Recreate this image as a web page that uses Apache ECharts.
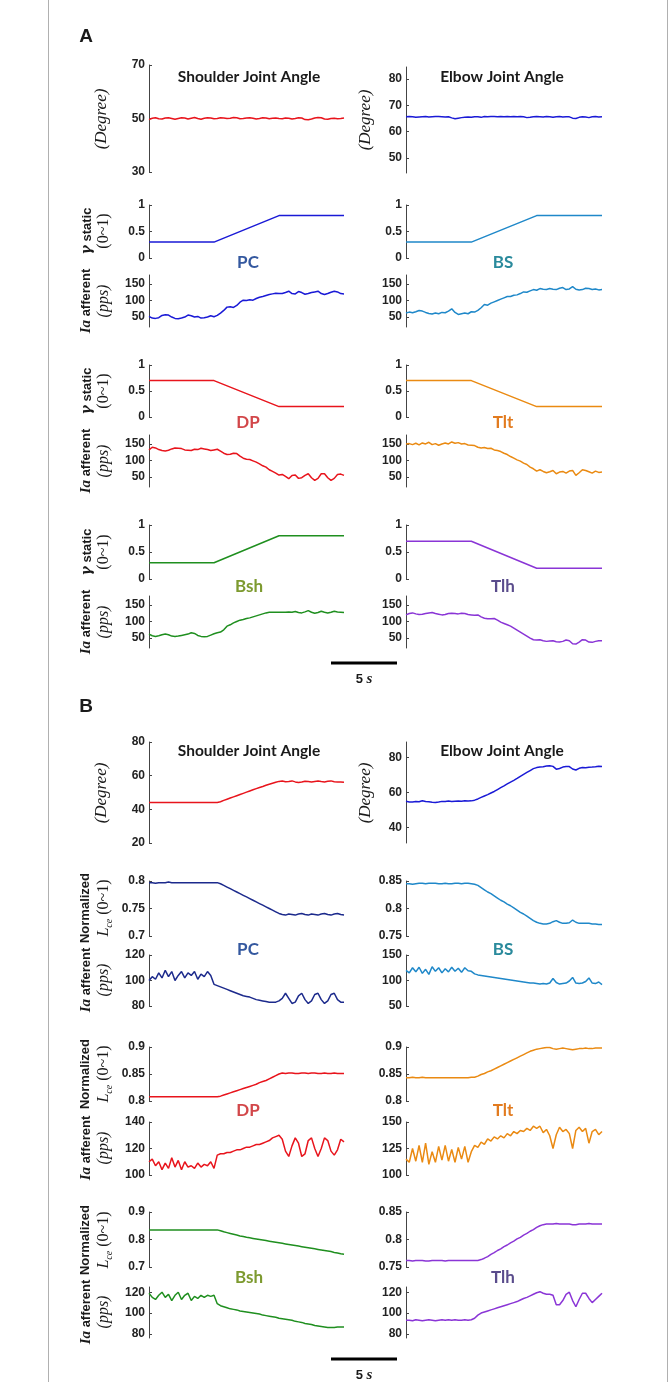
<!DOCTYPE html>
<html>
<head>
<meta charset="utf-8">
<title>Joint angle, gamma static and Ia afferent</title>
<script src="https://cdn.jsdelivr.net/npm/echarts@6/dist/echarts.min.js"></script>
<style>
  html, body { margin: 0; padding: 0; background: #fff; }
  #chart { width: 672px; height: 1382px; }
</style>
</head>
<body>
<div id="chart"></div>
<script>
// time base in seconds
const t = [0, 0.25, 0.5, 0.75, 1, 1.25, 1.5, 1.75, 2, 2.25,
  2.5, 2.75, 3, 3.25, 3.5, 3.75, 4, 4.25, 4.5, 4.75,
  5, 5.25, 5.5, 5.75, 6, 6.25, 6.5, 6.75, 7, 7.25,
  7.5, 7.75, 8, 8.25, 8.5, 8.75, 9, 9.25, 9.5, 9.75,
  10, 10.25, 10.5, 10.75, 11, 11.25, 11.5, 11.75, 12, 12.25,
  12.5, 12.75, 13, 13.25, 13.5, 13.75, 14, 14.25, 14.5, 14.75, 15];
const tRamp = [0, 5, 10, 15];
const scaleBarSec = [0, 5];

// ---- panel A ----
const shoulderA = [49.6, 50.1, 50.3, 49.9, 49.8, 50.2, 50.3, 50.0, 49.7, 50.0,
  50.3, 50.2, 49.8, 50.1, 50.4, 50.0, 49.7, 50.1, 50.3, 50.2,
  49.9, 50.0, 50.3, 50.2, 50.0, 50.1, 50.4, 50.3, 49.9, 50.0,
  50.2, 50.3, 50.1, 49.8, 50.0, 50.3, 50.2, 49.9, 50.1, 50.2,
  50.0, 49.9, 50.2, 50.1, 49.8, 50.0, 50.3, 50.2, 49.6, 49.5,
  49.8, 50.2, 50.4, 50.3, 49.8, 49.7, 50.0, 50.1, 49.9, 50.0, 50.2];
const elbowA = [65.6, 65.7, 65.6, 65.4, 65.5, 65.6, 65.7, 65.5, 65.6, 65.7,
  65.7, 65.6, 65.5, 65.6, 65.2, 64.9, 65.1, 65.3, 65.4, 65.5,
  65.4, 65.6, 65.6, 65.4, 65.7, 65.6, 65.7, 65.7, 65.6, 65.7,
  65.6, 65.7, 65.6, 65.7, 65.6, 65.7, 65.6, 65.3, 65.4, 65.6,
  65.7, 65.6, 65.5, 65.7, 65.6, 65.4, 65.6, 65.7, 65.5, 65.6,
  65.6, 65.1, 65.0, 65.4, 65.6, 65.5, 65.3, 65.6, 65.7, 65.5, 65.6];

const gammaPC = [0.3, 0.3, 0.8, 0.8];
const gammaBS = [0.3, 0.3, 0.8, 0.8];
const gammaDP = [0.7, 0.7, 0.2, 0.2];
const gammaTlt = [0.7, 0.7, 0.2, 0.2];
const gammaBsh = [0.3, 0.3, 0.8, 0.8];
const gammaTlh = [0.7, 0.7, 0.2, 0.2];

const iaPC_A = [52, 47, 46, 48, 55, 57, 56, 50, 46, 45,
  47, 50, 56, 54, 50, 52, 47, 48, 50, 54,
  51, 55, 62, 70, 80, 81, 79, 85, 95, 101,
  100, 102, 101, 106, 110, 112, 115, 118, 120, 122,
  121, 121, 124, 128, 121, 120, 127, 124, 119, 121,
  124, 126, 128, 121, 118, 121, 125, 128, 126, 121, 120];
const iaBS_A = [62, 65, 63, 66, 70, 68, 64, 61, 59, 62,
  60, 64, 63, 68, 75, 64, 58, 60, 62, 60,
  66, 65, 70, 78, 88, 86, 92, 96, 100, 104,
  108, 112, 112, 116, 117, 121, 126, 125, 129, 133,
  131, 136, 134, 133, 136, 134, 133, 137, 139, 133,
  135, 142, 134, 132, 133, 137, 136, 133, 135, 132, 133];
const iaDP_A = [132, 140, 138, 133, 130, 129, 131, 135, 138, 137,
  136, 132, 131, 130, 134, 133, 137, 135, 133, 130,
  132, 134, 128, 122, 118, 119, 122, 121, 113, 107,
  104, 103, 99, 95, 90, 84, 80, 72, 67, 62,
  56, 58, 52, 45, 55, 56, 46, 48, 55, 60,
  48, 40, 46, 60, 60, 48, 40, 46, 58, 59, 55];
const iaTlt_A = [150, 151, 148, 152, 147, 153, 150, 155, 148, 151,
  146, 150, 153, 150, 156, 152, 154, 150, 151, 147,
  146, 145, 140, 138, 139, 136, 137, 132, 130, 127,
  122, 118, 112, 107, 102, 98, 92, 88, 80, 75,
  68, 72, 67, 63, 66, 70, 60, 65, 67, 62,
  68, 70, 55, 63, 72, 70, 66, 62, 68, 64, 65];
const iaBsh_A = [62, 57, 55, 57, 60, 62, 60, 56, 55, 56,
  58, 60, 62, 66, 64, 58, 55, 54, 55, 59,
  63, 66, 68, 75, 86, 90, 96, 100, 104, 106,
  109, 111, 114, 117, 120, 123, 126, 128, 128, 128,
  128, 128, 128, 129, 128, 130, 127, 126, 129, 133,
  128, 125, 127, 131, 128, 126, 128, 131, 129, 128, 127];
const iaTlh_A = [120, 124, 126, 123, 121, 122, 124, 126, 127, 124,
  122, 120, 121, 124, 125, 124, 123, 125, 124, 121,
  120, 119, 120, 114, 110, 108, 108, 109, 104, 98,
  94, 90, 86, 80, 74, 68, 62, 56, 50, 45,
  44, 45, 42, 40, 41, 42, 39, 38, 40, 44,
  42, 33, 32, 38, 45, 44, 38, 37, 40, 42, 42];

// ---- panel B ----
const shoulderB = [44, 44, 44, 44.1, 44, 44, 44.1, 44, 44, 44,
  44, 44.1, 44, 44, 44, 44, 44.1, 44, 44, 44,
  44, 44.1, 44.5, 45.3, 46, 46.7, 47.4, 48.1, 48.8, 49.5,
  50.2, 50.9, 51.6, 52.3, 53, 53.6, 54.3, 54.9, 55.5, 56.1,
  56.6, 56.8, 56.4, 56.6, 56.9, 56.3, 55.9, 56.2, 56.7, 56.5,
  56.3, 56.6, 56.8, 56.5, 56.3, 56.7, 56.9, 56.4, 56.2, 56.3, 56.1];
const elbowB = [55, 54.6, 54.5, 54.8, 54.7, 55.3, 54.8, 54.7, 54.4, 54.2,
  54.5, 54.9, 54.8, 55.1, 54.9, 55, 55.1, 55, 55.2, 55.1,
  55.2, 55.6, 56.3, 57.2, 58, 58.8, 59.7, 60.6, 61.7, 62.8,
  63.8, 64.9, 66, 67, 68.1, 69.3, 70.4, 71.5, 72.6, 73.7,
  74.3, 74.6, 74.8, 75.2, 75.4, 75, 73.4, 73.8, 74.6, 74.9,
  74.9, 73.5, 72.9, 73.9, 74.3, 74.2, 74.5, 74.6, 74.8, 75.1, 75];

const lcePC = [0.797, 0.797, 0.796, 0.797, 0.797, 0.797, 0.798, 0.797, 0.797, 0.797,
  0.797, 0.797, 0.797, 0.797, 0.797, 0.797, 0.797, 0.797, 0.797, 0.797,
  0.797, 0.797, 0.795, 0.792, 0.789, 0.786, 0.783, 0.780, 0.777, 0.774,
  0.771, 0.768, 0.765, 0.762, 0.759, 0.756, 0.753, 0.750, 0.747, 0.744,
  0.741, 0.739, 0.738, 0.740, 0.739, 0.738, 0.740, 0.741, 0.739, 0.738,
  0.740, 0.739, 0.738, 0.740, 0.741, 0.739, 0.738, 0.740, 0.741, 0.739, 0.738];
const lceBS = [0.845, 0.845, 0.844, 0.845, 0.846, 0.846, 0.845, 0.846, 0.846, 0.846,
  0.845, 0.845, 0.846, 0.845, 0.845, 0.846, 0.846, 0.845, 0.846, 0.846,
  0.845, 0.844, 0.842, 0.838, 0.834, 0.830, 0.827, 0.823, 0.819, 0.815,
  0.812, 0.808, 0.805, 0.801, 0.797, 0.793, 0.790, 0.786, 0.782, 0.778,
  0.775, 0.773, 0.772, 0.772, 0.773, 0.776, 0.778, 0.775, 0.773, 0.773,
  0.774, 0.779, 0.775, 0.773, 0.773, 0.773, 0.773, 0.772, 0.772, 0.771, 0.771];
const iaPC_B = [100, 103, 101, 106, 102, 108, 103, 107, 100, 104,
  107, 102, 106, 104, 107, 101, 105, 103, 107, 104,
  97, 96, 95, 94, 93, 92, 91, 90, 89, 88,
  87.5, 87, 86, 85, 84.5, 84, 83.5, 83, 83, 83,
  84, 86, 90, 86, 82, 83, 88, 90, 85, 82,
  84, 89, 90, 85, 82, 84, 89, 90, 85, 83, 83];
const iaBS_B = [120, 115, 125, 117, 126, 114, 122, 112, 127, 118,
  125, 115, 123, 117, 126, 118, 124, 116, 125, 119,
  118, 113, 111, 110, 109, 108, 107, 106, 105, 104,
  103, 102, 101, 100, 99, 98, 97, 96, 95, 95,
  94, 93, 94, 93, 95, 104, 96, 93, 94, 95,
  99, 106, 95, 94, 95, 98, 105, 95, 94, 97, 92];

const lceDP = [0.808, 0.808, 0.808, 0.808, 0.808, 0.808, 0.808, 0.808, 0.808, 0.808,
  0.808, 0.808, 0.808, 0.808, 0.808, 0.808, 0.808, 0.808, 0.808, 0.808,
  0.808, 0.808, 0.809, 0.811, 0.813, 0.815, 0.817, 0.819, 0.821, 0.823,
  0.825, 0.827, 0.829, 0.831, 0.834, 0.836, 0.838, 0.841, 0.844, 0.847,
  0.850, 0.852, 0.851, 0.852, 0.852, 0.851, 0.851, 0.852, 0.852, 0.851,
  0.852, 0.852, 0.851, 0.851, 0.852, 0.851, 0.851, 0.852, 0.851, 0.851, 0.851];
const lceTlt = [0.843, 0.843, 0.844, 0.843, 0.843, 0.844, 0.843, 0.843, 0.843, 0.843,
  0.843, 0.843, 0.843, 0.843, 0.843, 0.843, 0.843, 0.843, 0.843, 0.843,
  0.844, 0.844, 0.846, 0.849, 0.851, 0.854, 0.856, 0.859, 0.862, 0.865,
  0.868, 0.871, 0.874, 0.877, 0.880, 0.883, 0.886, 0.889, 0.892, 0.894,
  0.896, 0.897, 0.898, 0.899, 0.899, 0.897, 0.896, 0.897, 0.898, 0.897,
  0.896, 0.895, 0.896, 0.897, 0.897, 0.898, 0.897, 0.897, 0.898, 0.898, 0.898];
const iaDP_B = [110, 112, 107, 110, 104, 109, 105, 113, 106, 111,
  104, 110, 106, 107, 105, 109, 106, 108, 107, 110,
  105, 115, 116, 116, 117, 117, 118, 119, 119, 120,
  121, 121, 122, 123, 123, 124, 125, 126, 128, 129,
  130, 127, 118, 114, 122, 128, 124, 114, 116, 126,
  128, 120, 114, 120, 128, 126, 118, 115, 119, 127, 125];
const iaTlt_B = [115, 112, 125, 113, 128, 112, 130, 110, 122, 112,
  127, 114, 128, 113, 124, 112, 126, 115, 127, 112,
  122, 128, 126, 131, 129, 134, 132, 136, 134, 137,
  135, 139, 137, 141, 139, 142, 141, 144, 142, 146,
  144, 146, 140, 143, 137, 125, 138, 145, 141, 143,
  139, 125, 142, 145, 141, 144, 130, 141, 143, 138, 141];

const lceBsh = [0.835, 0.835, 0.835, 0.835, 0.835, 0.835, 0.835, 0.835, 0.835, 0.835,
  0.835, 0.835, 0.835, 0.835, 0.835, 0.835, 0.835, 0.835, 0.835, 0.835,
  0.835, 0.835, 0.832, 0.828, 0.825, 0.822, 0.819, 0.816, 0.813, 0.811,
  0.808, 0.806, 0.804, 0.802, 0.800, 0.798, 0.796, 0.794, 0.792, 0.790,
  0.788, 0.786, 0.784, 0.782, 0.780, 0.778, 0.776, 0.774, 0.772, 0.770,
  0.768, 0.766, 0.764, 0.762, 0.760, 0.758, 0.756, 0.753, 0.751, 0.748, 0.746];
const lceTlh = [0.762, 0.762, 0.761, 0.762, 0.762, 0.762, 0.761, 0.761, 0.762, 0.762,
  0.762, 0.762, 0.761, 0.762, 0.762, 0.762, 0.762, 0.762, 0.762, 0.762,
  0.762, 0.762, 0.762, 0.7635, 0.766, 0.769, 0.773, 0.776, 0.780, 0.783,
  0.787, 0.790, 0.794, 0.797, 0.801, 0.804, 0.808, 0.811, 0.815, 0.818,
  0.822, 0.825, 0.827, 0.828, 0.828, 0.828, 0.829, 0.828, 0.828, 0.828,
  0.828, 0.827, 0.827, 0.828, 0.828, 0.828, 0.829, 0.828, 0.828, 0.828, 0.828];
const iaBsh_B = [119, 115, 113, 117, 120, 115, 118, 112, 117, 120,
  113, 117, 119, 112, 116, 114, 117, 115, 117, 116,
  117, 109, 107, 106, 105, 104, 103.5, 103, 102, 101.5,
  101, 100.5, 100, 99.5, 99, 98, 97.5, 97, 96.5, 96,
  95, 94.5, 94, 93.5, 93, 92, 91.5, 91, 90, 89.5,
  89, 88, 87.5, 87, 86.5, 86, 86, 86, 86.5, 86.5, 86.5];
const iaTlh_B = [93, 93, 92.5, 93.5, 93, 92.5, 93, 93.5, 93, 92.5,
  93, 93.5, 93, 93.5, 93, 93.5, 93, 93, 93.5, 93,
  93.5, 95, 98, 100, 101, 102, 103, 104, 105, 106,
  107, 108, 109, 110, 111, 112.5, 114, 115, 116.5, 118,
  119.5, 120.5, 119, 118, 118, 117, 108, 108, 112, 118,
  120, 112, 106, 113, 119, 119, 114, 110, 113, 116, 119];

// colours
const RED = "#e8141c";
const BLUE = "#1a1ad6";
const NAVY = "#1c2a8c";
const SKY = "#1f88c9";
const ORANGE = "#ea8a12";
const GREEN = "#1f8f1f";
const PURPLE = "#8a35d6";

const L = { left: 149, width: 195 };
const R = { left: 406, width: 196 };

const option = {
  animation: false,
  backgroundColor: "#fff",
  grid: [],
  xAxis: [],
  yAxis: [],
  series: [],
  graphic: []
};

function addPanel(col, top, bottom, min, max, ticks, xs, ys, color) {
  const idx = option.grid.length;
  option.grid.push({ left: col.left, width: col.width, top: top, height: bottom - top });
  option.xAxis.push({ type: "value", gridIndex: idx, min: 0, max: 15, show: false });
  option.yAxis.push({
    type: "value",
    gridIndex: idx,
    min: min,
    max: max,
    splitLine: { show: false },
    axisLine: { show: true, lineStyle: { color: "#444", width: 1 } },
    axisTick: { show: true, inside: true, length: 3, customValues: ticks, lineStyle: { color: "#444" } },
    axisLabel: {
      customValues: ticks,
      margin: 4,
      color: "#222",
      fontSize: 12,
      fontWeight: "bold",
      fontFamily: "Liberation Sans"
    }
  });
  option.series.push({
    type: "line",
    xAxisIndex: idx,
    yAxisIndex: idx,
    data: xs.map((x, i) => [x, ys[i]]),
    symbol: "none",
    silent: true,
    lineStyle: { color: color, width: 1.5 }
  });
}

// panel A
addPanel(L, 65, 172, 30, 70, [30, 50, 70], t, shoulderA, RED);
addPanel(R, 67, 173, 44.3, 84.5, [50, 60, 70, 80], t, elbowA, BLUE);
addPanel(L, 205, 258, 0, 1, [0, 0.5, 1], tRamp, gammaPC, BLUE);
addPanel(R, 205, 258, 0, 1, [0, 0.5, 1], tRamp, gammaBS, SKY);
addPanel(L, 275, 327, 20, 177, [50, 100, 150], t, iaPC_A, BLUE);
addPanel(R, 275, 327, 20, 177, [50, 100, 150], t, iaBS_A, SKY);
addPanel(L, 365, 417, 0, 1, [0, 0.5, 1], tRamp, gammaDP, RED);
addPanel(R, 365, 417, 0, 1, [0, 0.5, 1], tRamp, gammaTlt, ORANGE);
addPanel(L, 435, 487, 20, 177, [50, 100, 150], t, iaDP_A, RED);
addPanel(R, 435, 487, 20, 177, [50, 100, 150], t, iaTlt_A, ORANGE);
addPanel(L, 525, 579, 0, 1, [0, 0.5, 1], tRamp, gammaBsh, GREEN);
addPanel(R, 525, 579, 0, 1, [0, 0.5, 1], tRamp, gammaTlh, PURPLE);
addPanel(L, 596, 648, 20, 177, [50, 100, 150], t, iaBsh_A, GREEN);
addPanel(R, 596, 648, 20, 177, [50, 100, 150], t, iaTlh_A, PURPLE);

// panel B
addPanel(L, 742, 843, 20, 80, [20, 40, 60, 80], t, shoulderB, RED);
addPanel(R, 742, 843, 31, 89, [40, 60, 80], t, elbowB, BLUE);
addPanel(L, 881, 936, 0.7, 0.8, [0.7, 0.75, 0.8], t, lcePC, NAVY);
addPanel(R, 881, 936, 0.75, 0.85, [0.75, 0.8, 0.85], t, lceBS, SKY);
addPanel(L, 955, 1006, 80, 120, [80, 100, 120], t, iaPC_B, NAVY);
addPanel(R, 955, 1006, 50, 150, [50, 100, 150], t, iaBS_B, SKY);
addPanel(L, 1047, 1101, 0.8, 0.9, [0.8, 0.85, 0.9], t, lceDP, RED);
addPanel(R, 1047, 1101, 0.8, 0.9, [0.8, 0.85, 0.9], t, lceTlt, ORANGE);
addPanel(L, 1122, 1175, 100, 140, [100, 120, 140], t, iaDP_B, RED);
addPanel(R, 1122, 1175, 100, 150, [100, 125, 150], t, iaTlt_B, ORANGE);
addPanel(L, 1212, 1267, 0.7, 0.9, [0.7, 0.8, 0.9], t, lceBsh, GREEN);
addPanel(R, 1212, 1267, 0.75, 0.85, [0.75, 0.8, 0.85], t, lceTlh, PURPLE);
addPanel(L, 1287, 1338, 76, 125, [80, 100, 120], t, iaBsh_B, GREEN);
addPanel(R, 1287, 1338, 76, 125, [80, 100, 120], t, iaTlh_B, PURPLE);

// 5 s scale bars, drawn on their own time axis
function addScaleBar(top) {
  const idx = option.grid.length;
  option.grid.push({ left: 331, width: 66, top: top - 1, height: 2 });
  option.xAxis.push({ type: "value", gridIndex: idx, min: 0, max: 5, show: false });
  option.yAxis.push({ type: "value", gridIndex: idx, min: 0, max: 1, show: false });
  option.series.push({
    type: "line",
    xAxisIndex: idx,
    yAxisIndex: idx,
    data: scaleBarSec.map(x => [x, 0.5]),
    symbol: "none",
    silent: true,
    lineStyle: { color: "#000", width: 3 }
  });
}
addScaleBar(663);
addScaleBar(1359);

// text
const INK = "#1a1a1a";
function txt(x, y, text, font, color, rot, rich) {
  option.graphic.push({
    type: "text",
    x: x,
    y: y,
    rotation: rot || 0,
    silent: true,
    style: {
      text: text,
      font: font,
      fill: color || INK,
      align: "center",
      verticalAlign: "middle",
      textAlign: "center",
      textVerticalAlign: "middle",
      rich: rich
    }
  });
}
const RICH = {
  b: { fontFamily: "Liberation Sans", fontWeight: "bold", fontSize: 13, fill: INK },
  g: { fontFamily: "DejaVu Serif", fontStyle: "italic", fontWeight: "bold", fontSize: 14, fill: INK },
  i: { fontFamily: "Liberation Serif", fontStyle: "italic", fontWeight: "bold", fontSize: 15, fill: INK },
  it: { fontFamily: "Liberation Serif", fontStyle: "italic", fontSize: 16, fill: INK, lineHeight: 20 },
  dg: { fontFamily: "Liberation Serif", fontStyle: "italic", fontSize: 17, fill: INK },
  s: { fontFamily: "Liberation Serif", fontSize: 16, fill: INK, lineHeight: 20 },
  sub: { fontFamily: "Liberation Serif", fontStyle: "italic", fontSize: 10, fill: INK, lineHeight: 20, verticalAlign: "bottom" }
};
const UP = Math.PI / 2;

txt(86, 37, "A", "bold 19px Liberation Sans");
txt(86, 707, "B", "bold 19px Liberation Sans");
txt(249, 77, "Shoulder Joint Angle", "bold 15.5px Lato");
txt(502, 77, "Elbow Joint Angle", "bold 15.5px Lato");
txt(249, 751, "Shoulder Joint Angle", "bold 15.5px Lato");
txt(502, 751, "Elbow Joint Angle", "bold 15.5px Lato");

const muscles = [
  ["PC", 248, 263, "#34589f"], ["BS", 503, 263, "#2a8a9c"],
  ["DP", 248, 423, "#d2474a"], ["Tlt", 503, 423, "#e27b1f"],
  ["Bsh", 249, 587, "#7d9a2f"], ["Tlh", 503, 587, "#5a4c8c"],
  ["PC", 248, 950, "#34589f"], ["BS", 503, 950, "#2a8a9c"],
  ["DP", 248, 1111, "#d2474a"], ["Tlt", 503, 1111, "#e27b1f"],
  ["Bsh", 249, 1278, "#7d9a2f"], ["Tlh", 503, 1278, "#5a4c8c"]
];
muscles.forEach(m => txt(m[1], m[2], m[0], "bold 17px Lato", m[3]));

// y-axis titles
txt(102, 119, "{dg|(Degree)}", "17px Liberation Serif", INK, UP, RICH);
txt(366, 120, "{dg|(Degree)}", "17px Liberation Serif", INK, UP, RICH);
txt(102, 793, "{dg|(Degree)}", "17px Liberation Serif", INK, UP, RICH);
txt(366, 793, "{dg|(Degree)}", "17px Liberation Serif", INK, UP, RICH);

[231, 391, 552].forEach(y => {
  txt(87, y, "{g|γ} {b|static}", "13px Liberation Sans", INK, UP, RICH);
  txt(104, y, "{s|(0~1)}", "16px Liberation Serif", INK, UP, RICH);
});
[301, 461, 622, 980, 1148, 1312].forEach(y => {
  txt(86, y, "{i|Ia} {b|afferent}", "13px Liberation Sans", INK, UP, RICH);
  txt(104, y, "{it|(pps)}", "16px Liberation Serif", INK, UP, RICH);
});
[908, 1074, 1240].forEach(y => {
  txt(85, y, "{b|Normalized}", "13px Liberation Sans", INK, UP, RICH);
  txt(104, y, "{it|L}{sub|ce}{s| (0~1)}", "16px Liberation Serif", INK, UP, RICH);
});

// scale bar labels
txt(364, 679, "{b|5} {i|s}", "13px Liberation Sans", INK, 0, RICH);
txt(364, 1375, "{b|5} {i|s}", "13px Liberation Sans", INK, 0, RICH);

// figure frame
option.graphic.push({
  type: "rect",
  silent: true,
  shape: { x: 48.5, y: -2, width: 619, height: 1390 },
  style: { fill: "none", stroke: "#b0b0b0", lineWidth: 1 }
});

const chart = echarts.init(document.getElementById("chart"), null, { renderer: "canvas" });
chart.setOption(option);
</script>
</body>
</html>
